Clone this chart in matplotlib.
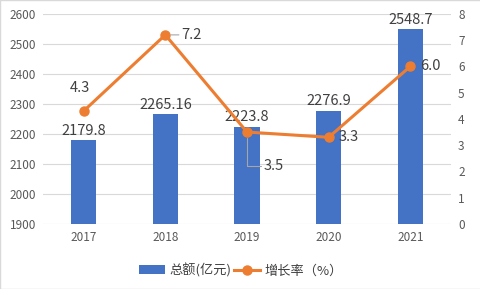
import matplotlib.pyplot as plt

plt.rcParams['font.family'] = ['Noto Sans CJK SC', 'DejaVu Sans']

years = ['2017', '2018', '2019', '2020', '2021']
total = [2179.8, 2265.16, 2223.8, 2276.9, 2548.7]
total_labels = ['2179.8', '2265.16', '2223.8', '2276.9', '2548.7']
growth = [4.3, 7.2, 3.5, 3.3, 6.0]
growth_labels = ['4.3', '7.2', '3.5', '3.3', '6.0']

bar_color = '#4472C4'
line_color = '#ED7D31'
tick_color = '#595959'

fig = plt.figure(figsize=(4.81, 2.89), dpi=100)
ax1 = fig.add_axes([0.089, 0.225, 0.849, 0.727])
ax2 = ax1.twinx()

x = list(range(len(years)))
ax1.bar(x, total, width=0.31, color=bar_color, label='总额(亿元)', zorder=2)
ax1.set_ylim(1900, 2600)
ax1.set_yticks(range(1900, 2700, 100))
ax1.set_xlim(-0.5, 4.5)
ax1.set_xticks(x)
ax1.set_xticklabels(years)
ax1.grid(axis='y', color='#D9D9D9', linewidth=0.8, zorder=0)
ax1.set_axisbelow(True)
for s in ax1.spines.values():
    s.set_visible(False)
for s in ax2.spines.values():
    s.set_visible(False)
ax1.tick_params(length=0, labelsize=8.5, colors=tick_color, pad=5)
ax2.tick_params(length=0, labelsize=8.5, colors=tick_color, pad=5)

for xi, v, t in zip(x, total, total_labels):
    ax1.text(xi, v + 8, t, ha='center', va='bottom', fontsize=10.5, color='#404040')

ax2.plot(x, growth, color=line_color, linewidth=2.2, marker='o', markersize=6.5,
         label='增长率（%）', zorder=3)
ax2.set_ylim(0, 8)
ax2.set_yticks(range(0, 9))

# growth labels
ax2.text(0 - 0.05, growth[0] + 0.6, growth_labels[0], ha='center', va='bottom', fontsize=10.5, color='#404040')
ax2.annotate(growth_labels[1], xy=(1, growth[1]), xytext=(1 + 0.2, growth[1]), ha='left', va='center',
             fontsize=10.5, color='#404040',
             arrowprops=dict(arrowstyle='-', color='#A6A6A6', lw=0.8, shrinkA=0, shrinkB=4))
ax2.annotate(growth_labels[2], xy=(2, growth[2]), xytext=(2 + 0.2, growth[2] - 1.3), ha='left', va='center',
             fontsize=10.5, color='#404040',
             arrowprops=dict(arrowstyle='-', color='#A6A6A6', lw=0.8, shrinkA=0, shrinkB=4,
                             connectionstyle='angle,angleA=0,angleB=90,rad=0'))
ax2.text(3 + 0.12, growth[3], growth_labels[3], ha='left', va='center', fontsize=10.5, color='#404040')
ax2.text(4 + 0.12, growth[4], growth_labels[4], ha='left', va='center', fontsize=10.5, color='#404040')

h1, l1 = ax1.get_legend_handles_labels()
h2, l2 = ax2.get_legend_handles_labels()
fig.legend(h1 + h2, l1 + l2, loc='center', bbox_to_anchor=(0.5, 0.065), ncol=2, frameon=False,
           fontsize=9.5, labelcolor='#404040', handlelength=2.0, columnspacing=0.2, handletextpad=0.3)

fig.patches.append(plt.Rectangle((0, 0), 1, 1, transform=fig.transFigure, fill=False,
                                 edgecolor='#D9D9D9', linewidth=1))

fig.savefig('out.png', dpi=100)
